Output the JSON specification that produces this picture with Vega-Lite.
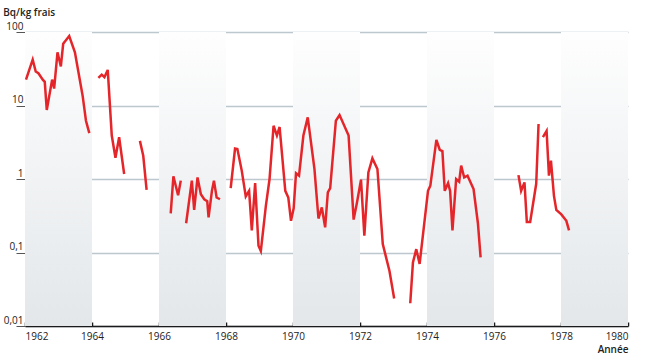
{
  "$schema": "https://vega.github.io/schema/vega-lite/v6.json",
  "width": 603,
  "height": 294,
  "autosize": {"type": "none"},
  "padding": {"left": 25, "top": 32, "right": 22, "bottom": 36},
  "background": "white",
  "config": {
    "view": {"stroke": null},
    "font": "Open Sans"
  },
  "title": {
    "text": "Bq/kg frais",
    "anchor": "start",
    "frame": "bounds",
    "fontSize": 10,
    "fontWeight": 600,
    "color": "#222222",
    "offset": 3,
    "dx": 0
  },
  "datasets": {
    "bands": [
      {"start": 1962, "end": 1964},
      {"start": 1966, "end": 1968},
      {"start": 1970, "end": 1972},
      {"start": 1974, "end": 1976},
      {"start": 1978, "end": 1980}
    ],
    "series": [
      {"seg": 1, "year": 1962.03, "v": 22.5},
      {"seg": 1, "year": 1962.23, "v": 42},
      {"seg": 1, "year": 1962.32, "v": 29},
      {"seg": 1, "year": 1962.40, "v": 27.5},
      {"seg": 1, "year": 1962.53, "v": 22.5},
      {"seg": 1, "year": 1962.59, "v": 21},
      {"seg": 1, "year": 1962.65, "v": 8.7},
      {"seg": 1, "year": 1962.81, "v": 22.5},
      {"seg": 1, "year": 1962.87, "v": 17},
      {"seg": 1, "year": 1962.97, "v": 53},
      {"seg": 1, "year": 1963.07, "v": 34},
      {"seg": 1, "year": 1963.14, "v": 69},
      {"seg": 1, "year": 1963.32, "v": 88},
      {"seg": 1, "year": 1963.49, "v": 53},
      {"seg": 1, "year": 1963.72, "v": 13.6},
      {"seg": 1, "year": 1963.82, "v": 6.2},
      {"seg": 1, "year": 1963.92, "v": 4.2},
      {"seg": 2, "year": 1964.19, "v": 23.8},
      {"seg": 2, "year": 1964.29, "v": 26.3},
      {"seg": 2, "year": 1964.37, "v": 24.3},
      {"seg": 2, "year": 1964.47, "v": 30.5},
      {"seg": 2, "year": 1964.59, "v": 3.9},
      {"seg": 2, "year": 1964.70, "v": 1.95},
      {"seg": 2, "year": 1964.81, "v": 3.7},
      {"seg": 2, "year": 1964.96, "v": 1.17},
      {"seg": 3, "year": 1965.43, "v": 3.3},
      {"seg": 3, "year": 1965.53, "v": 2.07},
      {"seg": 3, "year": 1965.63, "v": 0.71},
      {"seg": 4, "year": 1966.35, "v": 0.34},
      {"seg": 4, "year": 1966.43, "v": 1.09},
      {"seg": 4, "year": 1966.57, "v": 0.6},
      {"seg": 4, "year": 1966.65, "v": 0.95},
      {"seg": 5, "year": 1966.81, "v": 0.25},
      {"seg": 5, "year": 1966.98, "v": 0.95},
      {"seg": 5, "year": 1967.05, "v": 0.38},
      {"seg": 5, "year": 1967.15, "v": 1.05},
      {"seg": 5, "year": 1967.25, "v": 0.62},
      {"seg": 5, "year": 1967.35, "v": 0.53},
      {"seg": 5, "year": 1967.44, "v": 0.5},
      {"seg": 5, "year": 1967.48, "v": 0.3},
      {"seg": 5, "year": 1967.58, "v": 0.69},
      {"seg": 5, "year": 1967.64, "v": 0.95},
      {"seg": 5, "year": 1967.72, "v": 0.56},
      {"seg": 5, "year": 1967.82, "v": 0.53},
      {"seg": 6, "year": 1968.14, "v": 0.75},
      {"seg": 6, "year": 1968.27, "v": 2.6},
      {"seg": 6, "year": 1968.34, "v": 2.56},
      {"seg": 6, "year": 1968.47, "v": 1.3},
      {"seg": 6, "year": 1968.59, "v": 0.58},
      {"seg": 6, "year": 1968.69, "v": 0.69},
      {"seg": 6, "year": 1968.77, "v": 0.2},
      {"seg": 6, "year": 1968.87, "v": 0.88},
      {"seg": 6, "year": 1968.97, "v": 0.124},
      {"seg": 6, "year": 1969.04, "v": 0.105},
      {"seg": 6, "year": 1969.19, "v": 0.43},
      {"seg": 6, "year": 1969.30, "v": 1.0},
      {"seg": 6, "year": 1969.42, "v": 5.3},
      {"seg": 6, "year": 1969.52, "v": 3.9},
      {"seg": 6, "year": 1969.60, "v": 5.1},
      {"seg": 6, "year": 1969.77, "v": 0.69},
      {"seg": 6, "year": 1969.86, "v": 0.56},
      {"seg": 6, "year": 1969.94, "v": 0.27},
      {"seg": 6, "year": 1970.02, "v": 0.4},
      {"seg": 6, "year": 1970.09, "v": 1.2},
      {"seg": 6, "year": 1970.18, "v": 1.11},
      {"seg": 6, "year": 1970.31, "v": 3.9},
      {"seg": 6, "year": 1970.44, "v": 6.9},
      {"seg": 6, "year": 1970.64, "v": 1.37},
      {"seg": 6, "year": 1970.76, "v": 0.29},
      {"seg": 6, "year": 1970.86, "v": 0.41},
      {"seg": 6, "year": 1970.96, "v": 0.22},
      {"seg": 6, "year": 1971.04, "v": 0.66},
      {"seg": 6, "year": 1971.11, "v": 0.75},
      {"seg": 6, "year": 1971.28, "v": 6.2},
      {"seg": 6, "year": 1971.39, "v": 7.4},
      {"seg": 6, "year": 1971.66, "v": 3.9},
      {"seg": 6, "year": 1971.81, "v": 0.28},
      {"seg": 6, "year": 1971.91, "v": 0.48},
      {"seg": 6, "year": 1972.03, "v": 0.98},
      {"seg": 6, "year": 1972.13, "v": 0.17},
      {"seg": 6, "year": 1972.25, "v": 1.23},
      {"seg": 6, "year": 1972.37, "v": 1.91},
      {"seg": 6, "year": 1972.52, "v": 1.37},
      {"seg": 6, "year": 1972.68, "v": 0.13},
      {"seg": 6, "year": 1972.88, "v": 0.056},
      {"seg": 6, "year": 1973.02, "v": 0.0237},
      {"seg": 7, "year": 1973.50, "v": 0.0204},
      {"seg": 7, "year": 1973.58, "v": 0.073},
      {"seg": 7, "year": 1973.68, "v": 0.111},
      {"seg": 7, "year": 1973.78, "v": 0.07},
      {"seg": 7, "year": 1973.90, "v": 0.21},
      {"seg": 7, "year": 1974.03, "v": 0.69},
      {"seg": 7, "year": 1974.10, "v": 0.81},
      {"seg": 7, "year": 1974.28, "v": 3.4},
      {"seg": 7, "year": 1974.38, "v": 2.5},
      {"seg": 7, "year": 1974.46, "v": 2.4},
      {"seg": 7, "year": 1974.53, "v": 0.69},
      {"seg": 7, "year": 1974.63, "v": 0.88},
      {"seg": 7, "year": 1974.69, "v": 0.69},
      {"seg": 7, "year": 1974.76, "v": 0.2},
      {"seg": 7, "year": 1974.87, "v": 1.0},
      {"seg": 7, "year": 1974.96, "v": 0.92},
      {"seg": 7, "year": 1975.02, "v": 1.52},
      {"seg": 7, "year": 1975.11, "v": 1.05},
      {"seg": 7, "year": 1975.21, "v": 1.11},
      {"seg": 7, "year": 1975.39, "v": 0.73},
      {"seg": 7, "year": 1975.52, "v": 0.25},
      {"seg": 7, "year": 1975.60, "v": 0.086},
      {"seg": 8, "year": 1976.73, "v": 1.13},
      {"seg": 8, "year": 1976.81, "v": 0.69},
      {"seg": 8, "year": 1976.91, "v": 0.9},
      {"seg": 8, "year": 1976.98, "v": 0.26},
      {"seg": 8, "year": 1977.08, "v": 0.26},
      {"seg": 8, "year": 1977.26, "v": 0.86},
      {"seg": 8, "year": 1977.33, "v": 5.6},
      {"seg": 9, "year": 1977.46, "v": 3.7},
      {"seg": 9, "year": 1977.57, "v": 4.5},
      {"seg": 9, "year": 1977.64, "v": 1.11},
      {"seg": 9, "year": 1977.70, "v": 1.78},
      {"seg": 9, "year": 1977.79, "v": 0.59},
      {"seg": 9, "year": 1977.86, "v": 0.38},
      {"seg": 9, "year": 1978.01, "v": 0.33},
      {"seg": 9, "year": 1978.16, "v": 0.27},
      {"seg": 9, "year": 1978.24, "v": 0.2}
    ]
  },
  "layer": [
    {
      "data": {"name": "bands"},
      "mark": {
        "type": "rect",
        "color": {
          "gradient": "linear",
          "x1": 0, "y1": 0, "x2": 0, "y2": 1,
          "stops": [
            {"offset": 0, "color": "#fefefe"},
            {"offset": 1, "color": "#e3e7ea"}
          ]
        }
      },
      "encoding": {
        "x": {"field": "start", "type": "quantitative", "scale": {"domain": [1962, 1980], "nice": false, "zero": false}},
        "x2": {"field": "end"}
      }
    },
    {
      "data": {"name": "series"},
      "mark": {"type": "line", "color": "#e4262b", "strokeWidth": 2.5, "strokeJoin": "miter", "strokeMiterLimit": 4},
      "encoding": {
        "x": {
          "field": "year", "type": "quantitative",
          "scale": {"domain": [1962, 1980], "nice": false, "zero": false},
          "axis": {
            "values": [1962, 1964, 1966, 1968, 1970, 1972, 1974, 1976, 1978, 1980],
            "format": "d",
            "grid": false,
            "domainColor": "#1a1a1a",
            "domainWidth": 1.5,
            "tickColor": "#1a1a1a",
            "tickWidth": 1.5,
            "tickSize": -4,
            "labelPadding": 9,
            "labelFontSize": 10,
            "labelColor": "#222222",
            "title": "Année",
            "titleAnchor": "end",
            "titleAlign": "right",
            "titleFontSize": 10,
            "titleFontWeight": 600,
            "titleColor": "#222222",
            "titlePadding": 3,
            "titleX": 603
          }
        },
        "y": {
          "field": "v", "type": "quantitative",
          "scale": {"type": "log", "domain": [0.01, 100], "nice": false},
          "axis": {
            "values": [0.01, 0.1, 1, 10, 100],
            "labelExpr": "replace(datum.value + '', '.', ',')",
            "title": null,
            "domain": false,
            "grid": true,
            "gridColor": "#bcc7ce",
            "gridWidth": 1.5,
            "tickColor": "#555555",
            "tickSize": 9,
            "tickWidth": 1,
            "labelPadding": -7,
            "labelBaseline": "bottom",
            "labelOffset": -1,
            "labelFontSize": 10,
            "labelColor": "#222222"
          }
        },
        "detail": {"field": "seg", "type": "nominal"}
      }
    }
  ]
}
